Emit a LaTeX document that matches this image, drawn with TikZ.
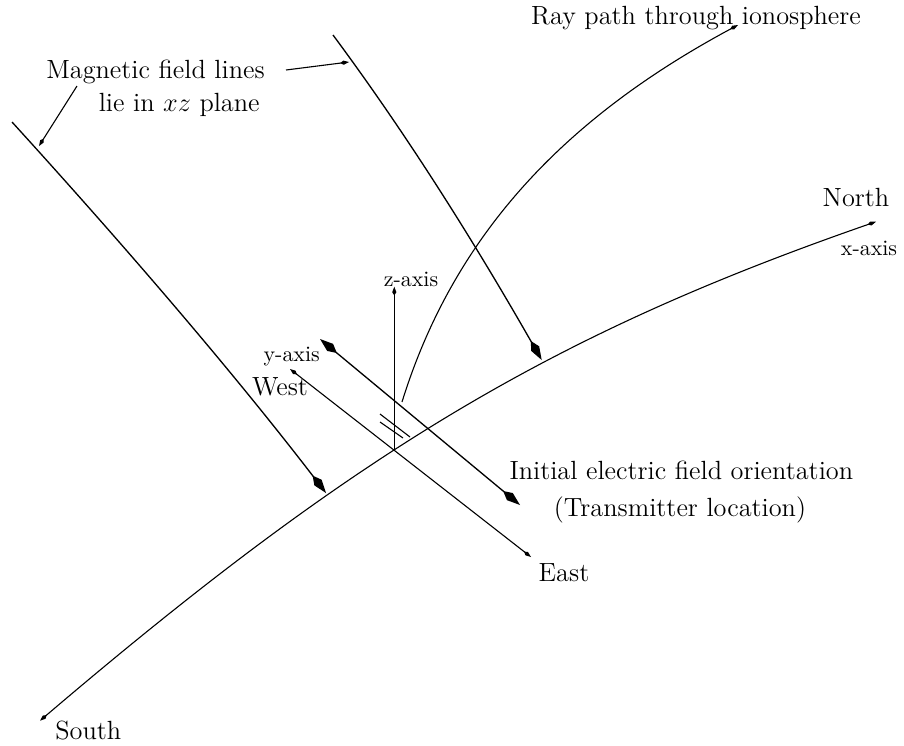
\documentclass[tikz,border=0pt]{standalone}
\usetikzlibrary{arrows.meta}
\tikzset{
  lbl/.style={anchor=base, inner sep=0pt, font=\fontsize{12}{14}\selectfont},
  small/.style={anchor=base, inner sep=0pt, font=\fontsize{10}{12}\selectfont},
  thinline/.style={line width=0.5pt},
  fieldline/.style={line width=0.6pt},
  bigtip/.style={-{Kite[length=10pt,width=4.2pt,inset=4pt]}},
  bigboth/.style={{Kite[length=10pt,width=4.2pt,inset=4pt]}-{Kite[length=10pt,width=4.2pt,inset=4pt]}},
  smalltip/.style={-{Kite[length=4pt,width=1.9pt,inset=1.5pt]}},
  smallboth/.style={{Kite[length=4pt,width=1.9pt,inset=1.5pt]}-{Kite[length=4pt,width=1.9pt,inset=1.5pt]}}
}
\begin{document}
\begin{tikzpicture}[x=0.456pt,y=-0.456pt]
\useasboundingbox (0,0) rectangle (904,746);
% coordinates
\coordinate (O) at (394.3,450);
\coordinate (S) at (40,720.7);
\coordinate (N) at (876,221.7);
\coordinate (W) at (290,369);
\coordinate (E) at (531,557);
\coordinate (Z) at (394.3,286.7);
\coordinate (R0) at (402,402);
\coordinate (R1) at (738,25);
\coordinate (M1a) at (12,122);
\coordinate (M1b) at (326,493);
\coordinate (M2a) at (333,35);
\coordinate (M2b) at (541.7,360);
\coordinate (Ea) at (320,339);
\coordinate (Eb) at (520,505);
\coordinate (T1a) at (380,414);
\coordinate (T1b) at (410,437);
\coordinate (T2a) at (380,422);
\coordinate (T2b) at (403,438);
\coordinate (L1a) at (286,70);
\coordinate (L1b) at (349,62);
\coordinate (L2a) at (77,86);
\coordinate (L2b) at (39,146);

% labels
\node[lbl] (ray) at (696,25) {Ray path through ionosphere};
\node[lbl] (mag1) at (155.5,78.3) {Magnetic field lines};
\node[lbl] (mag2) at (179.2,111.7) {lie in $xz$ plane};
\node[lbl] (north) at (856,206.7) {North};
\node[small] (xax) at (869,255) {x-axis};
\node[small] (zax) at (411,286) {z-axis};
\node[small] (yax) at (291.7,361.7) {y-axis};
\node[lbl] (west) at (280,395.7) {West};
\node[lbl] (init1) at (681.3,479.3) {Initial electric field orientation};
\node[lbl] (init2) at (680,516.7) {(Transmitter location)};
\node[lbl] (east) at (564,581.7) {East};
\node[lbl] (south) at (88.3,739.3) {South};

% x-axis (South-North)
\draw[thinline,smallboth] (S) .. controls (360,448) and (556,333) .. (N);
% y-axis (West-East)
\draw[thinline,smallboth] (W) -- (E);
% z-axis
\draw[line width=0.7pt,smalltip] (O) -- (Z);
% ray path
\draw[thinline,smalltip] (R0) .. controls (454.7,232) and (568,116.2) .. (R1);
% magnetic field lines
\draw[fieldline,bigtip] (M1a) .. controls (119.7,240.4) and (228.4,366.1) .. (M1b);
\draw[fieldline,bigtip] (M2a) .. controls (410.4,139.4) and (477.2,247.2) .. (M2b);
% initial electric field
\draw[fieldline,bigboth] (Ea) -- (Eb);
% transmitter symbol
\draw[thinline] (T1a) -- (T1b);
\draw[thinline] (T2a) -- (T2b);
% label pointers
\draw[thinline,smalltip] (L1a) -- (L1b);
\draw[thinline,smalltip] (L2a) -- (L2b);
\end{tikzpicture}
\end{document}
